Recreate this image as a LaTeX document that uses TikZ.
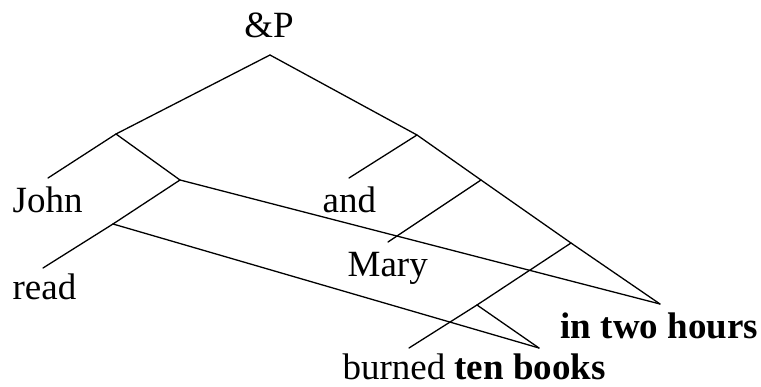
\documentclass[tikz,border=0pt]{standalone}
\usepackage{fontspec}
\setmainfont{Liberation Serif}
\begin{document}
\begin{tikzpicture}[x=1pt,y=-1pt,line width=1.3pt,line cap=round,
    rotulo/.style={anchor=base west, inner sep=0pt, font=\fontsize{37}{40}\selectfont}]
      \useasboundingbox (0,0) rectangle (761,387);
      % Nos internos
      \coordinate (raiz) at (270,55);
      \coordinate (ea)   at (116,134);
      \coordinate (eb)   at (180,180);
      \coordinate (ec)   at (113,224);
      \coordinate (da)   at (417,135);
      \coordinate (db)   at (481,180);
      \coordinate (dc)   at (571,243);
      \coordinate (dd)   at (477,305);
      % Pontas das folhas
      \coordinate (fjohn)   at (48,178);
      \coordinate (fread)   at (43,268);
      \coordinate (fand)    at (349,178);
      \coordinate (fmary)   at (388,242);
      \coordinate (fburned) at (409,348);
      \coordinate (fbooks)  at (539,348);
      \coordinate (fhours)  at (660,304);

      % Rotulos
      \node[rotulo, anchor=base] (ep) at (269,38) {\&P};
      \node[rotulo] (john)   at (12,213)  {John};
      \node[rotulo] (read)   at (12,300)  {read};
      \node[rotulo] (and)    at (322,213) {and};
      \node[rotulo] (mary)   at (347,277) {Mary};
      \node[rotulo] (hours)  at (560,339) {\textbf{in two hours}};
      \node[rotulo] (burned) at (342,380) {burned \textbf{ten books}};

      % Ramo esquerdo
      \draw (raiz) -- (ea);
      \draw (ea) -- (fjohn);
      \draw (ea) -- (eb);
      \draw (eb) -- (ec);
      \draw (eb) -- (fhours);
      \draw (ec) -- (fread);
      \draw (ec) -- (fbooks);

      % Ramo direito
      \draw (raiz) -- (da) -- (db) -- (dc) -- (fhours);
      \draw (da) -- (fand);
      \draw (db) -- (fmary);
      \draw (dc) -- (dd);
      \draw (dd) -- (fburned);
      \draw (dd) -- (fbooks);

    \end{tikzpicture}
\end{document}
